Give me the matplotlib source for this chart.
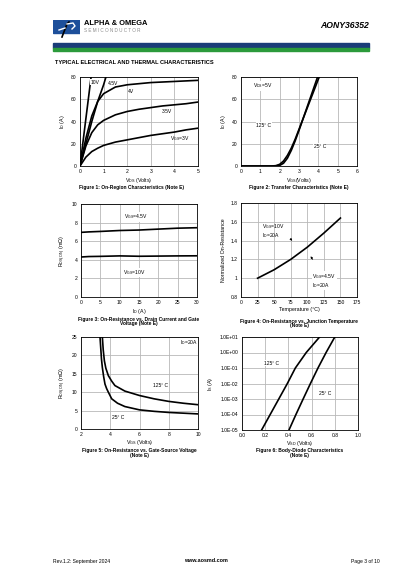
import numpy as np
import matplotlib
matplotlib.use('Agg')
import matplotlib.pyplot as plt
from matplotlib.patches import Rectangle

plt.rcParams['font.family'] = ['Liberation Sans', 'DejaVu Sans']
plt.rcParams['mathtext.fontset'] = 'custom'
plt.rcParams['mathtext.rm'] = 'Liberation Sans'
plt.rcParams['mathtext.it'] = 'Liberation Sans'

# Figure 1: on-region characteristics
vds = [0, 0.25, 0.5, 0.75, 1, 1.5, 2, 2.5, 3, 3.5, 4, 4.5, 5]
vds_10v = [0, 0.24, 0.47]
id_10v = [0, 41, 80]
vds_45v = [0, 0.25, 0.5, 0.75, 1.0, 1.1]
id_45v = [0, 20, 40, 58, 73, 80]
id_4v = [0, 25, 45, 58, 65, 71, 73, 74, 75, 75.5, 76, 76.5, 77]
id_35v = [0, 18, 30, 37, 41, 46, 49, 51, 52.5, 54, 55, 56, 57.5]
id_3v = [0, 8, 13, 16, 18.5, 21.5, 23.5, 25.5, 27.5, 29, 30.5, 32.5, 34]

# Figure 2: transfer characteristics
vgs_125 = [0, 1.6, 1.8, 2.0, 2.2, 2.4, 2.6, 2.8, 3.0, 3.2, 3.4, 3.6, 3.8, 4.0, 4.1]
id_125 = [0, 0, 0.3, 1.5, 4.5, 9.5, 16, 24, 33, 42, 51, 60, 69, 78, 82]
vgs_25 = [0, 1.8, 2.0, 2.2, 2.4, 2.6, 2.8, 3.0, 3.2, 3.4, 3.6, 3.8, 4.0]
id_25 = [0, 0, 0.5, 2.5, 7, 14, 22.5, 32, 42, 52, 62, 72, 82]

# Figure 3: Rds(on) vs drain current
id3 = [0, 2, 5, 10, 15, 20, 25, 30]
rds_45v = [6.95, 7.0, 7.05, 7.15, 7.2, 7.3, 7.4, 7.45]
rds_10v = [4.3, 4.35, 4.37, 4.42, 4.38, 4.4, 4.42, 4.43]

# Figure 4: normalized Rds(on) vs temperature
temp = [25, 50, 75, 100, 125, 150]
rnorm = [1.0, 1.09, 1.2, 1.33, 1.48, 1.64]

# Figure 5: Rds(on) vs Vgs
vgs5_25 = [3.3, 3.4, 3.46, 3.55, 3.64, 3.75, 3.87, 4.1, 4.5, 5, 6, 7, 8, 9, 10]
rds5_25 = [25, 19, 16.7, 14.2, 12.2, 11, 10, 8.2, 7.0, 6.1, 5.2, 4.8, 4.5, 4.3, 4.1]
vgs5_125 = [3.46, 3.52, 3.6, 3.7, 3.87, 4.1, 4.32, 5, 6, 7, 8, 9, 10]
rds5_125 = [25, 21.5, 18.5, 16.5, 14.5, 13, 11.8, 10.3, 9.1, 8.2, 7.5, 7.0, 6.6]

# Figure 6: body diode
is_a = [1e-5, 1e-4, 1e-3, 1e-2, 1e-1, 1e0, 1e1]
vsd_125 = [0.169, 0.243, 0.317, 0.391, 0.46, 0.554, 0.669]
vsd_25 = [0.405, 0.465, 0.527, 0.59, 0.655, 0.725, 0.8]

W, H = 416, 588
fig = plt.figure(figsize=(W / 100, H / 100), dpi=100)


def px_axes(x0, y0, x1, y1):
    return fig.add_axes([x0 / W, 1 - y1 / H, (x1 - x0) / W, (y1 - y0) / H])


def style(ax):
    ax.grid(True, color='#b8b8b8', lw=0.6)
    ax.set_axisbelow(True)
    ax.tick_params(length=0, labelsize=3.6, pad=2.5)
    for s in ax.spines.values():
        s.set_linewidth(0.6)


def ftext(x, y, s, **kw):
    fig.text(x / W, 1 - y / H, s, **kw)


LW = 1.2
lab = dict(fontsize=3.6)
box = dict(fc='white', ec='none', pad=0.3)
cap = dict(fontsize=3.5, fontweight='bold', ha='center', va='center', linespacing=1.0)

# header
logo = px_axes(53, 20, 80, 38)
logo.set_xlim(0, 27)
logo.set_ylim(18, 0)
logo.axis('off')
logo.add_patch(Rectangle((0, 0), 27, 13.3, color='#1d4f9a'))
logo.plot([9, 14, 16], [17, 4, 2], color='black', lw=1.2)
logo.plot([14, 20, 22, 19], [4, 3, 6, 9], color='white', lw=1.0)
logo.plot([6, 12], [10, 8], color='white', lw=1.0)
ftext(84, 23.5, 'ALPHA & OMEGA', fontsize=5.4, fontweight='bold', va='center')
ftext(84, 31, 'S E M I C O N D U C T O R', fontsize=3.3, color='#8a8a8a', va='center')
ftext(369, 25, 'AONY36352', fontsize=6.2, fontweight='bold', style='italic',
      ha='right', va='center')
fig.patches.append(Rectangle((53 / W, 1 - 47.7 / H), 316 / W, 4.4 / H,
                             transform=fig.transFigure, color='#1a3c78'))
fig.patches.append(Rectangle((53 / W, 1 - 50.7 / H), 316 / W, 3.0 / H,
                             transform=fig.transFigure, color='#2b9a3b'))
ftext(55, 62, 'TYPICAL ELECTRICAL AND THERMAL CHARACTERISTICS', fontsize=4.1,
      fontweight='bold', va='center')

# Figure 1
ax1 = px_axes(80, 77, 198, 166)
style(ax1)
ax1.plot(vds_10v, id_10v, 'k', lw=LW)
ax1.plot(vds_45v, id_45v, 'k', lw=LW)
ax1.plot(vds, id_4v, 'k', lw=LW)
ax1.plot(vds, id_35v, 'k', lw=LW)
ax1.plot(vds, id_3v, 'k', lw=LW)
ax1.set_xlim(0, 5)
ax1.set_ylim(0, 80)
ax1.set_xticks(range(0, 6))
ax1.set_yticks(range(0, 81, 20))
ax1.text(0.45, 75.5, '10V', va='center', bbox=box, **lab)
ax1.text(1.16, 74, '4.5V', va='center', **lab)
ax1.text(2.03, 66.6, '4V', va='center', **lab)
ax1.text(3.46, 48.8, '3.5V', va='center', **lab)
ax1.text(3.8, 25, r'V$_{GS}$=3V', va='center', **lab)
ax1.set_xlabel(r'V$_{DS}$ (Volts)', fontsize=3.8, labelpad=1)
ax1.set_ylabel(r'I$_D$ (A)', fontsize=3.8, labelpad=3)
ftext(132, 187.5, 'Figure 1: On-Region Characteristics (Note E)', **cap)

# Figure 2
ax2 = px_axes(241, 77, 357, 166)
style(ax2)
ax2.plot(vgs_125, id_125, 'k', lw=LW)
ax2.plot(vgs_25, id_25, 'k', lw=LW)
ax2.set_xlim(0, 6)
ax2.set_ylim(0, 80)
ax2.set_xticks(range(0, 7))
ax2.set_yticks(range(0, 81, 20))
ax2.text(0.64, 72, r'V$_{DS}$=5V', va='center', bbox=box, **lab)
ax2.text(0.8, 36.7, '125° C', va='center', bbox=box, **lab)
ax2.text(3.75, 17.7, '25° C', va='center', bbox=box, **lab)
ax2.set_xlabel(r'V$_{GS}$(Volts)', fontsize=3.8, labelpad=1)
ax2.set_ylabel(r'I$_D$ (A)', fontsize=3.8, labelpad=3)
ftext(299, 187.5, 'Figure 2: Transfer Characteristics (Note E)', **cap)

# Figure 3
ax3 = px_axes(81, 204, 197, 297)
style(ax3)
ax3.plot(id3, rds_45v, 'k', lw=LW)
ax3.plot(id3, rds_10v, 'k', lw=LW)
ax3.set_xlim(0, 30)
ax3.set_ylim(0, 10)
ax3.set_xticks(range(0, 31, 5))
ax3.set_yticks(range(0, 11, 2))
ax3.text(14.3, 8.6, r'V$_{GS}$=4.5V', ha='center', va='center', bbox=box, **lab)
ax3.text(13.8, 2.65, r'V$_{GS}$=10V', ha='center', va='center', bbox=box, **lab)
ax3.set_xlabel(r'I$_D$ (A)', fontsize=3.8, labelpad=1)
ax3.set_ylabel(r'R$_{DS(ON)}$ (m$\Omega$)', fontsize=3.8, labelpad=3)
ftext(139, 321.5, 'Figure 3: On-Resistance vs. Drain Current and Gate\nVoltage (Note E)',
      **cap)

# Figure 4
ax4 = px_axes(241, 203, 357, 297)
style(ax4)
ax4.plot(temp, rnorm, 'k', lw=LW)
ax4.set_xlim(0, 175)
ax4.set_ylim(0.8, 1.8)
ax4.set_xticks(range(0, 176, 25))
ax4.set_yticks([0.8, 1.0, 1.2, 1.4, 1.6, 1.8])
ax4.set_yticklabels(['0.8', '1', '1.2', '1.4', '1.6', '1.8'])
ax4.text(31, 1.60, 'V$_{GS}$=10V\nI$_D$=20A', va='top', linespacing=1.1, **lab)
ax4.text(107.6, 1.07, 'V$_{GS}$=4.5V\nI$_D$=20A', va='top', linespacing=1.1,
         bbox=box, **lab)
ax4.annotate('', xy=(80.4, 1.378), xytext=(71.4, 1.44),
             arrowprops=dict(arrowstyle='-|>', color='k', lw=0.5,
                             mutation_scale=3))
ax4.annotate('', xy=(102.6, 1.257), xytext=(110.6, 1.175),
             arrowprops=dict(arrowstyle='-|>', color='k', lw=0.5,
                             mutation_scale=3))
ax4.set_xlabel('Temperature (°C)', fontsize=3.8, labelpad=1)
ax4.set_ylabel('Normalized On-Resistance', fontsize=3.8, labelpad=3)
ftext(299, 323.5, 'Figure 4: On-Resistance vs. Junction Temperature\n(Note E)', **cap)

# Figure 5
ax5 = px_axes(81, 337, 198, 429)
style(ax5)
ax5.plot(vgs5_25, rds5_25, 'k', lw=LW)
ax5.plot(vgs5_125, rds5_125, 'k', lw=LW)
ax5.set_xlim(2, 10)
ax5.set_ylim(0, 25)
ax5.set_xticks(range(2, 11, 2))
ax5.set_yticks(range(0, 26, 5))
ax5.text(8.77, 23.4, r'I$_D$=20A', va='center', **lab)
ax5.text(6.9, 11.8, '125° C', va='center', bbox=box, **lab)
ax5.text(4.1, 3.2, '25° C', va='center', bbox=box, **lab)
ax5.set_xlabel(r'V$_{GS}$ (Volts)', fontsize=3.8, labelpad=0.5)
ax5.set_ylabel(r'R$_{DS(ON)}$ (m$\Omega$)', fontsize=3.8, labelpad=3)
ftext(139, 453, 'Figure 5: On-Resistance vs. Gate-Source Voltage\n(Note E)', **cap)

# Figure 6
ax6 = px_axes(242, 337, 358, 430)
style(ax6)
ax6.semilogy(vsd_125, is_a, 'k', lw=LW)
ax6.semilogy(vsd_25, is_a, 'k', lw=LW)
ax6.set_xlim(0, 1)
ax6.set_ylim(1e-5, 1e1)
ax6.set_xticks(np.arange(0, 1.01, 0.2))
ax6.set_xticklabels(['0.0', '0.2', '0.4', '0.6', '0.8', '1.0'])
ax6.set_yticks(is_a)
ax6.set_yticklabels(['1.0E-05', '1.0E-04', '1.0E-03', '1.0E-02', '1.0E-01',
                     '1.0E+00', '1.0E+01'])
ax6.minorticks_off()
ax6.text(0.19, 0.21, '125° C', va='center', bbox=box, **lab)
ax6.text(0.66, 10 ** -2.67, '25° C', va='center', bbox=box, **lab)
ax6.set_xlabel(r'V$_{SD}$ (Volts)', fontsize=3.8, labelpad=0.5)
ax6.set_ylabel(r'I$_S$ (A)', fontsize=3.8, labelpad=3)
ftext(300, 453, 'Figure 6: Body-Diode Characteristics\n(Note E)', **cap)

# footer
ftext(53, 561, 'Rev.1.2: September 2024', fontsize=3.6, va='center')
ftext(206, 561, 'www.aosmd.com', fontsize=3.9, fontweight='bold', ha='center',
      va='center')
ftext(380, 561.5, 'Page 3 of 10', fontsize=3.6, ha='right', va='center')

fig.savefig('out.png', dpi=100)
